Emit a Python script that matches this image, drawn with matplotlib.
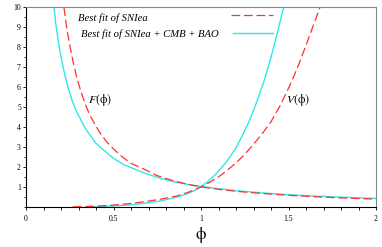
import matplotlib
matplotlib.use("Agg")
import matplotlib.pyplot as plt
from matplotlib.lines import Line2D
from matplotlib.ticker import MultipleLocator

# values
# F(phi), best fit of SNIa (red dashed)
phi_F_sn = [0.217, 0.225, 0.235, 0.25, 0.27, 0.29, 0.31, 0.335, 0.36, 0.39, 0.423,
            0.46, 0.5, 0.55, 0.6, 0.669, 0.75, 0.84, 0.92, 1.0, 1.1, 1.2, 1.35,
            1.5, 1.65, 1.8, 2.0]
F_sn = [10.0, 9.45, 8.85, 8.1, 7.25, 6.5, 5.9, 5.25, 4.7, 4.2, 3.72,
        3.28, 2.92, 2.52, 2.2, 1.93, 1.58, 1.33, 1.16, 1.02, 0.9, 0.8, 0.69,
        0.6, 0.53, 0.47, 0.41]

# F(phi), best fit of SNIa + CMB + BAO (cyan)
phi_F_all = [0.16, 0.17, 0.18, 0.19, 0.205, 0.22, 0.24, 0.261, 0.285, 0.309, 0.335,
             0.362, 0.40, 0.442, 0.5, 0.56, 0.604, 0.68, 0.766, 0.85, 0.937, 1.0,
             1.1, 1.2, 1.35, 1.5, 1.65, 1.8, 2.0]
F_all = [10.0, 9.2, 8.6, 8.0, 7.3, 6.7, 6.0, 5.4, 4.85, 4.45, 4.0,
         3.65, 3.2, 2.87, 2.45, 2.13, 1.97, 1.7, 1.45, 1.27, 1.12, 1.04,
         0.93, 0.83, 0.72, 0.63, 0.56, 0.51, 0.44]

# V(phi), best fit of SNIa
phi_V_sn = [0.267, 0.35, 0.42, 0.48, 0.55, 0.61, 0.67, 0.73, 0.79, 0.861, 0.93, 1.0,
            1.05, 1.1, 1.15, 1.2, 1.25, 1.3, 1.35, 1.4, 1.45, 1.5, 1.55, 1.6,
            1.64, 1.68]
V_sn = [0.02, 0.04, 0.07, 0.1, 0.15, 0.2, 0.27, 0.35, 0.44, 0.56, 0.76, 1.02,
        1.25, 1.52, 1.85, 2.22, 2.65, 3.15, 3.68, 4.28, 5.05, 5.95, 6.95, 8.1,
        9.05, 10.0]

# V(phi), best fit of SNIa + CMB + BAO
phi_V_all = [0.394, 0.46, 0.53, 0.6, 0.66, 0.72, 0.77, 0.82, 0.87, 0.92, 0.96, 1.0,
             1.04, 1.08, 1.12, 1.16, 1.2, 1.24, 1.28, 1.32, 1.36, 1.40, 1.44, 1.472]
V_all = [0.03, 0.05, 0.08, 0.12, 0.18, 0.25, 0.32, 0.42, 0.53, 0.67, 0.82, 1.03,
         1.3, 1.62, 2.0, 2.45, 2.98, 3.65, 4.4, 5.3, 6.3, 7.5, 8.85, 10.0]

x_ticks = [0, 0.5, 1, 1.5, 2]
x_tick_labels = ["0", "0.5", "1", "1.5", "2"]
y_ticks = [1, 2, 3, 4, 5, 6, 7, 8, 9, 10]

red = "#ff3030"
cyan = "#30e8e8"
dash = (0, (7, 3))
serif = "Liberation Serif"

fig = plt.figure(figsize=(3.82, 2.47), dpi=100)
ax = fig.add_axes([26 / 382, 39.7 / 247, 350 / 382, 200 / 247])

ax.plot(phi_F_all, F_all, color=cyan, lw=1.0)
ax.plot(phi_V_all, V_all, color=cyan, lw=1.0)
ax.plot(phi_F_sn, F_sn, color=red, lw=0.9, ls=dash)
ax.plot(phi_V_sn, V_sn, color=red, lw=0.9, ls=dash)

ax.set_xlim(0, 2)
ax.set_ylim(0, 10)

# axes style
for side in ["left", "bottom"]:
    ax.spines[side].set_color("black")
    ax.spines[side].set_linewidth(0.8)
for side in ["top", "right"]:
    ax.spines[side].set_color("#888888")
    ax.spines[side].set_linewidth(0.8)

ax.set_xticks(x_ticks)
ax.set_xticklabels(x_tick_labels)
ax.set_yticks(y_ticks)
ax.set_yticklabels([str(v) for v in y_ticks])
ax.xaxis.set_minor_locator(MultipleLocator(0.1))
ax.yaxis.set_minor_locator(MultipleLocator(0.5))
ax.tick_params(axis="x", which="both", length=2.2, width=0.6, pad=3.5,
               labelsize=5.5, top=False)
ax.tick_params(axis="y", which="major", length=2.2, width=0.6, pad=1.5,
               labelsize=5.5, right=False)
ax.tick_params(axis="y", which="minor", length=1.4, width=0.6, right=False)
for lab in ax.get_xticklabels() + ax.get_yticklabels():
    lab.set_fontfamily(serif)

ax.set_xlabel(r"$\mathrm{\phi}$", fontsize=12, math_fontfamily="stix", labelpad=1)

# curve labels
ax.text(0.354, 5.37, r"$F(\mathrm{\phi})$", fontsize=8.5, math_fontfamily="stix",
        ha="left", va="center")
ax.text(1.486, 5.37, r"$V(\mathrm{\phi})$", fontsize=8.5, math_fontfamily="stix",
        ha="left", va="center")

# legend, Maple style: text on the left, sample line on the right
ax.text(0.149, 0.9465, "Best fit of SNIea", transform=ax.transAxes,
        fontsize=7.7, family=serif, style="italic", ha="left", va="center")
ax.text(0.157, 0.8665, "Best fit of SNIea + CMB + BAO", transform=ax.transAxes,
        fontsize=7.7, family=serif, style="italic", ha="left", va="center")
ax.add_line(Line2D([0.586, 0.706], [0.9615, 0.9615], transform=ax.transAxes,
                   color=red, lw=0.9, ls=dash))
ax.add_line(Line2D([0.591, 0.706], [0.8715, 0.8715], transform=ax.transAxes,
                   color=cyan, lw=1.0))

fig.savefig("out.png", dpi=100)
